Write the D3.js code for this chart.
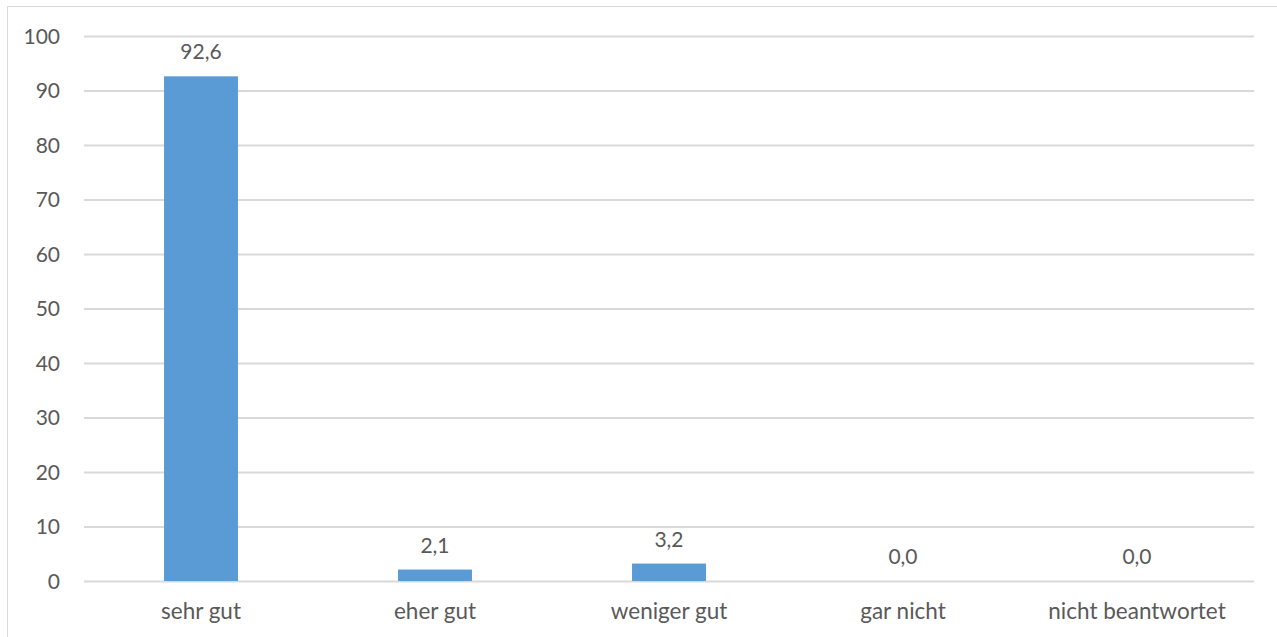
<!DOCTYPE html>
<html>
<head>
<meta charset="utf-8">
<script src="https://cdn.jsdelivr.net/npm/d3@7"></script>
<style>
  html, body { margin: 0; padding: 0; background: #ffffff; }
  svg { display: block; }
  text { font-family: Lato, "Open Sans", sans-serif; fill: #595959; }
</style>
</head>
<body>
<svg id="chart" width="1277" height="637"></svg>
<script>
// Antworten und Anteile in Prozent
const categories = ["sehr gut", "eher gut", "weniger gut", "gar nicht", "nicht beantwortet"];
const values = [92.6, 2.1, 3.2, 0.0, 0.0];
const yTicks = [0, 10, 20, 30, 40, 50, 60, 70, 80, 90, 100];

const svg = d3.select("#chart");
const numSize = 21;
const catSize = 22.5;

// Rahmen des Diagrammbereichs
svg.append("rect")
  .attr("x", 7.5).attr("y", 6.5)
  .attr("width", 1300).attr("height", 700)
  .attr("fill", "none")
  .attr("stroke", "#d9d9d9")
  .attr("stroke-width", 1);

const plot = { left: 84, right: 1254, top: 36, bottom: 581 };

const x = d3.scaleBand()
  .domain(categories)
  .range([plot.left, plot.right])
  .paddingInner(0.684)
  .paddingOuter(0.342);

const y = d3.scaleLinear()
  .domain([0, 100])
  .range([plot.bottom, plot.top]);

// Gitternetzlinien und Achsenbeschriftung
const yAxis = d3.axisLeft(y)
  .tickValues(yTicks)
  .tickSize(-(plot.right - plot.left))
  .tickPadding(24)
  .tickFormat(d3.format("d"));

const gy = svg.append("g")
  .attr("transform", `translate(${plot.left},0)`)
  .call(yAxis);
gy.select(".domain").remove();
gy.selectAll(".tick line")
  .attr("stroke", "#d9d9d9")
  .attr("stroke-width", 2);
gy.selectAll(".tick text")
  .attr("font-size", numSize)
  .attr("fill", "#595959")
  .style("font-family", "Lato, 'Open Sans', sans-serif")
  .attr("dy", "0.35em");

// Balken
svg.append("g").selectAll("rect")
  .data(values)
  .join("rect")
  .attr("x", (d, i) => x(categories[i]))
  .attr("width", x.bandwidth())
  .attr("y", d => y(d))
  .attr("height", d => y(0) - y(d))
  .attr("fill", "#5b9bd5");

// Werte über den Balken
const fmt = v => d3.format(".1f")(v).replace(".", ",");
svg.append("g").selectAll("text")
  .data(values)
  .join("text")
  .attr("x", (d, i) => x(categories[i]) + x.bandwidth() / 2)
  .attr("y", d => y(d) - 17)
  .attr("text-anchor", "middle")
  .attr("font-size", numSize)
  .text(d => fmt(d));

// Kategorienbeschriftung
const xAxis = d3.axisBottom(x).tickSize(0).tickPadding(0);
const gx = svg.append("g")
  .attr("transform", `translate(0,${plot.bottom})`)
  .call(xAxis);
gx.select(".domain").remove();
gx.selectAll(".tick text")
  .attr("font-size", catSize)
  .attr("fill", "#595959")
  .style("font-family", "Lato, 'Open Sans', sans-serif")
  .attr("y", 38)
  .attr("dy", 0);
</script>
</body>
</html>
